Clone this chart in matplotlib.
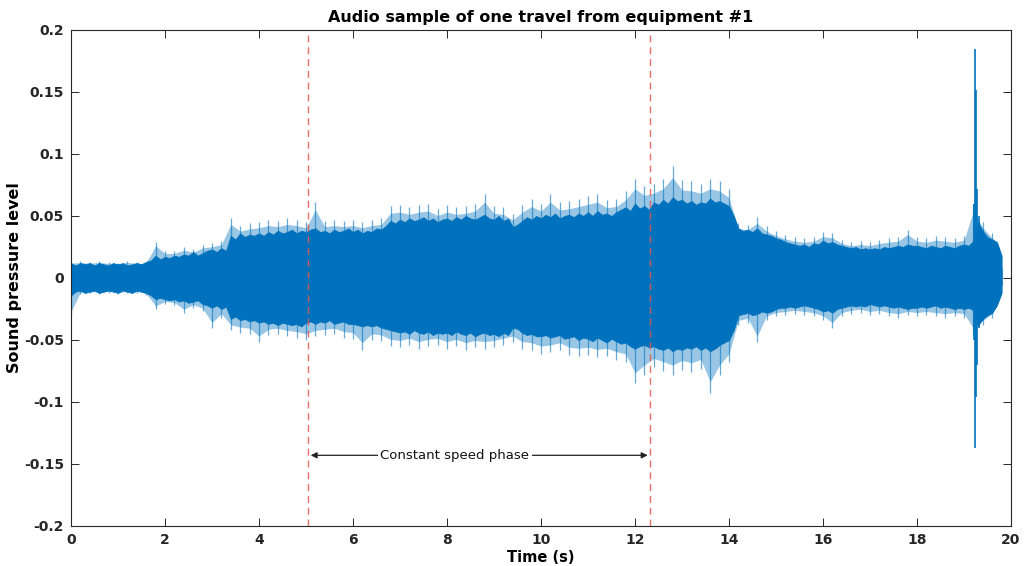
import numpy as np
import matplotlib
matplotlib.use("Agg")
import matplotlib.pyplot as plt

# Envelope of the recording, one value every 0.1 s (x 0.001)
t_env = np.round(np.arange(0.0, 19.81, 0.1), 2)
upper_env = [12, 10, 12, 11, 12, 10, 12, 11, 10, 12,
             11, 12, 10, 11, 12, 11, 13, 14, 18, 15,
             17, 16, 18, 17, 19, 18, 21, 18, 20, 22,
             23, 21, 24, 22, 34, 31, 36, 33, 35, 34,
             36, 34, 37, 35, 38, 36, 37, 39, 36, 38,
             37, 39, 40, 37, 38, 36, 39, 37, 38, 40,
             37, 39, 36, 38, 37, 40, 39, 42, 46, 44,
             47, 45, 48, 46, 47, 49, 46, 48, 45, 47,
             48, 46, 49, 47, 50, 48, 47, 49, 51, 48,
             47, 50, 46, 48, 41, 43, 46, 49, 47, 50,
             48, 51, 49, 52, 48, 50, 51, 49, 52, 50,
             53, 50, 54, 51, 52, 50, 53, 55, 57, 54,
             60, 56, 58, 55, 61, 59, 63, 60, 65, 62,
             63, 60, 62, 59, 61, 60, 64, 61, 62, 60,
             58, 50, 40, 38, 39, 37, 40, 36, 35, 34,
             32, 31, 29, 28, 27, 26, 27, 25, 28, 27,
             30, 28, 29, 27, 26, 25, 24, 25, 23, 24,
             23, 24, 23, 25, 24, 25, 26, 25, 27, 26,
             26, 25, 24, 26, 25, 24, 26, 25, 24, 26,
             27, 26, 30, 45, 38, 33, 31, 29, 18]
lower_env = [14, 11, 10, 12, 11, 10, 12, 11, 10, 11,
             12, 10, 11, 12, 10, 11, 12, 14, 17, 16,
             17, 18, 17, 19, 18, 20, 19, 18, 21, 22,
             24, 22, 25, 23, 33, 31, 34, 33, 35, 34,
             36, 35, 37, 36, 38, 36, 37, 38, 37, 39,
             36, 35, 37, 35, 36, 34, 37, 36, 35, 37,
             37, 38, 39, 38, 39, 38, 40, 41, 42, 43,
             44, 43, 45, 42, 44, 45, 43, 46, 44, 45,
             44, 46, 43, 45, 46, 44, 47, 45, 44, 46,
             45, 47, 44, 46, 40, 41, 44, 46, 45, 47,
             47, 46, 48, 47, 46, 49, 48, 47, 50, 48,
             49, 51, 48, 50, 52, 49, 51, 53, 52, 55,
             57, 55, 54, 56, 55, 57, 58, 56, 59, 57,
             58, 56, 57, 55, 58, 56, 59, 57, 54, 52,
             50, 42, 30, 29, 28, 30, 29, 27, 28, 27,
             25, 24, 24, 23, 24, 23, 22, 23, 24, 25,
             27, 26, 28, 25, 24, 23, 22, 23, 22, 23,
             21, 22, 23, 22, 23, 24, 23, 24, 25, 24,
             24, 23, 24, 23, 22, 24, 23, 24, 25, 24,
             25, 24, 26, 38, 33, 30, 28, 22, 12]

# Largest excursion reached in each 0.2 s bin (x 0.001)
t_bins = np.round(np.arange(0.0, 19.81, 0.2), 2)
upper_peak = [13, 14, 13, 14, 13, 12, 14, 13, 13,
              29, 22, 22, 25, 23, 27, 28, 30, 48, 42, 44, 45, 47, 46, 48, 47,
              45, 61, 46, 47, 46, 47, 45, 47, 48, 58, 59, 57, 59, 60, 56, 59,
              57, 58, 60, 68, 58, 57, 52, 59, 64, 60, 68, 61, 62, 64, 66, 68,
              63, 64, 70, 80, 74, 76, 80, 90, 79, 78, 76, 80, 78, 72, 44, 43,
              49, 42, 38, 35, 33, 32, 33, 37, 36, 31, 29, 30, 29, 31, 32, 33,
              39, 33, 32, 34, 33, 32, 34, 60, 45, 36, 8]
lower_peak = [30, 13, 12, 13, 12, 13, 12, 12, 14,
              25, 21, 22, 28, 24, 27, 40, 32, 42, 44, 45, 52, 46, 45, 47, 48,
              50, 47, 46, 45, 48, 49, 58, 50, 51, 55, 56, 54, 57, 55, 54, 57,
              55, 58, 56, 57, 56, 54, 52, 57, 58, 61, 60, 58, 62, 63, 62, 64,
              63, 66, 68, 85, 78, 72, 75, 78, 74, 76, 73, 93, 78, 68, 38, 36,
              52, 34, 31, 30, 29, 30, 31, 34, 40, 31, 29, 28, 30, 29, 31, 32,
              30, 31, 30, 31, 32, 31, 32, 45, 38, 32, 6]

# Impact burst near the end of the travel
burst_t = [19.21, 19.23, 19.25, 19.28, 19.32]
burst_hi = [0.060, 0.185, 0.152, 0.072, 0.050]
burst_lo = [-0.050, -0.137, -0.096, -0.070, -0.040]

# Limits of the constant speed phase (s)
phase_start = 5.05
phase_end = 12.32

blue = "#0072BD"
up_e = np.array(upper_env) / 1000.0
lo_e = -np.array(lower_env) / 1000.0
up_p = np.array(upper_peak) / 1000.0
lo_p = -np.array(lower_peak) / 1000.0

fig = plt.figure(figsize=(10.24, 5.66), dpi=100)
ax = fig.add_axes([0.0693, 0.0707, 0.9180, 0.8763])

# fuzzy fringe between the dense body and the typical spike height
up_f = np.maximum(np.interp(t_env, t_bins, up_p) * 0.9, up_e)
lo_f = np.minimum(np.interp(t_env, t_bins, lo_p) * 0.9, lo_e)
ax.fill_between(t_env, lo_f, up_f, color=blue, alpha=0.4, lw=0, zorder=2)
ax.fill_between(t_env, lo_e, up_e, color=blue, lw=0.6, edgecolor=blue, zorder=2)
ax.vlines(t_bins, lo_p, up_p, color=blue, lw=0.9, alpha=0.6, zorder=2)
ax.vlines(burst_t, burst_lo, burst_hi, color=blue, lw=1.2, zorder=2)

for xv in (phase_start, phase_end):
    ax.axvline(xv, color="#e8554e", ls=(0, (5, 3.5)), lw=1.0, alpha=0.85, zorder=3)

ax.annotate("", xy=(phase_start + 0.05, -0.143), xytext=(phase_end - 0.05, -0.143),
            arrowprops=dict(arrowstyle="<|-|>", color="#222222", lw=0.9,
                            mutation_scale=9, shrinkA=0, shrinkB=0), zorder=4)
ax.text(8.17, -0.143, "Constant speed phase", ha="center", va="center",
        fontsize=9.5, color="#111111",
        bbox=dict(facecolor="white", edgecolor="none", pad=1.5), zorder=5)

ax.set_xlim(0, 20)
ax.set_ylim(-0.2, 0.2)
ax.set_xticks(np.arange(0, 21, 2))
ax.set_xticklabels([str(v) for v in range(0, 21, 2)], fontweight="bold")
yt = [-0.2, -0.15, -0.1, -0.05, 0, 0.05, 0.1, 0.15, 0.2]
ax.set_yticks(yt)
ax.set_yticklabels(["-0.2", "-0.15", "-0.1", "-0.05", "0", "0.05", "0.1", "0.15", "0.2"],
                   fontweight="bold")
ax.tick_params(direction="in", length=6, width=0.7, colors="#262626",
               labelsize=10, top=True, right=True, pad=5)
for s in ax.spines.values():
    s.set_linewidth(0.8)
    s.set_color("#262626")

ax.set_title("Audio sample of one travel from equipment #1", fontsize=11.5,
             fontweight="bold", pad=6)
ax.set_xlabel("Time (s)", fontsize=10.5, fontweight="bold", labelpad=2)
ax.set_ylabel("Sound pressure level", fontsize=11.5, fontweight="bold")
ax.yaxis.set_label_coords(-0.052, 0.5)

fig.savefig("out.png", dpi=100)
